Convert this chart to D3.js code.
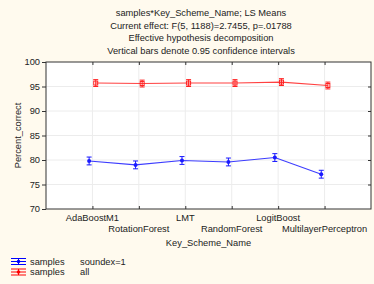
<!DOCTYPE html>
<html>
<head>
<meta charset="utf-8">
<script src="https://cdn.jsdelivr.net/npm/d3@7/dist/d3.min.js"></script>
<style>
  body { margin: 0; background: #fffaee; }
  svg { display: block; font-family: "Liberation Sans", Arial, sans-serif; }
</style>
</head>
<body>
<svg width="374" height="284"></svg>
<script>
var categories = ["AdaBoostM1", "RotationForest", "LMT", "RandomForest", "LogitBoost", "MultilayerPerceptron"];
var soundexMeans = [79.8, 79.0, 79.9, 79.6, 80.5, 77.1];
var soundexErr = [0.8, 0.8, 0.8, 0.8, 0.8, 0.8];
var allMeans = [95.7, 95.6, 95.7, 95.7, 95.9, 95.2];
var allErr = [0.7, 0.7, 0.7, 0.7, 0.7, 0.7];
var yTicks = [70, 75, 80, 85, 90, 95, 100];
var titleLines = [
  "samples*Key_Scheme_Name; LS Means",
  "Current effect: F(5, 1188)=2.7455, p=.01788",
  "Effective hypothesis decomposition",
  "Vertical bars denote 0.95 confidence intervals"
];
var legendRows = [
  { name: "samples", level: "soundex=1", color: "#0000ff" },
  { name: "samples", level: "all", color: "#ff0000" }
];

var fs = "9.3px";
var margin = { top: 62, right: 3, bottom: 75, left: 46 },
  width = 374 - margin.left - margin.right,
  height = 284 - margin.top - margin.bottom;

var svg = d3.select("svg");
svg.append("rect").attr("width", 374).attr("height", 284).attr("fill", "#fffaee");

// titles
svg.selectAll("text.title")
  .data(titleLines)
  .enter().append("text")
  .attr("class", "title")
  .attr("x", 201)
  .attr("y", function(d, i) { return 16 + i * 12.6; })
  .attr("text-anchor", "middle")
  .attr("font-size", fs)
  .attr("fill", "#222")
  .text(function(d) { return d; });

var g = svg.append("g")
  .attr("transform", "translate(" + margin.left + "," + margin.top + ")");

var x = d3.scaleLinear().domain([0, categories.length + 1]).range([0, width]);
var y = d3.scaleLinear().domain([70, 100]).range([height, 0]);

g.append("rect").attr("width", width).attr("height", height).attr("fill", "#fff");

// grid
g.selectAll("line.hgrid")
  .data(yTicks.slice(1, -1))
  .enter().append("line")
  .attr("x1", 0).attr("x2", width)
  .attr("y1", function(d) { return y(d); })
  .attr("y2", function(d) { return y(d); })
  .attr("stroke", "#ececec");
g.selectAll("line.vgrid")
  .data(categories)
  .enter().append("line")
  .attr("x1", function(d, i) { return x(i + 1); })
  .attr("x2", function(d, i) { return x(i + 1); })
  .attr("y1", 0).attr("y2", height)
  .attr("stroke", "#ececec");

// axes
var yAxis = g.append("g")
  .call(d3.axisLeft(y).tickValues(yTicks).tickSize(4).tickPadding(2));
yAxis.select(".domain").remove();
yAxis.selectAll("text").attr("font-size", fs).attr("fill", "#222")
  .attr("font-family", "Liberation Sans, Arial, sans-serif");
yAxis.selectAll("line").attr("stroke", "#333");

g.append("g")
  .attr("transform", "translate(" + width + ",0)")
  .call(d3.axisLeft(y).tickValues(yTicks.slice(1, -1)).tickSize(3).tickFormat(""))
  .call(function(a) { a.select(".domain").remove(); a.selectAll("line").attr("stroke", "#333"); });

var xAxis = g.append("g")
  .attr("transform", "translate(0," + height + ")")
  .call(d3.axisTop(x).tickValues(d3.range(1, categories.length + 1)).tickSize(3).tickFormat(""));
xAxis.select(".domain").remove();
xAxis.selectAll("line").attr("stroke", "#333");
g.append("g")
  .call(d3.axisBottom(x).tickValues(d3.range(1, categories.length + 1)).tickSize(3).tickFormat(""))
  .call(function(a) { a.select(".domain").remove(); a.selectAll("line").attr("stroke", "#333"); });

g.selectAll("text.xlab")
  .data(categories)
  .enter().append("text")
  .attr("class", "xlab")
  .attr("x", function(d, i) { return x(i + 1); })
  .attr("y", function(d, i) { return height + (i % 2 === 0 ? 12 : 23); })
  .attr("text-anchor", "middle")
  .attr("font-size", fs)
  .attr("fill", "#222")
  .text(function(d) { return d; });

g.append("rect").attr("width", width).attr("height", height)
  .attr("fill", "none").attr("stroke", "#333").attr("stroke-width", 1);

// axis titles
svg.append("text")
  .attr("x", margin.left + width / 2)
  .attr("y", 246)
  .attr("text-anchor", "middle")
  .attr("font-size", fs)
  .attr("fill", "#222")
  .text("Key_Scheme_Name");
svg.append("text")
  .attr("transform", "rotate(-90)")
  .attr("x", -(margin.top + height / 2))
  .attr("y", 21)
  .attr("text-anchor", "middle")
  .attr("font-size", fs)
  .attr("fill", "#222")
  .text("Percent_correct");

// series
function drawSeries(means, errs, color, offset, square) {
  var pts = means.map(function(m, i) { return { i: i, m: m, e: errs[i] }; });
  var px = function(d) { return x(d.i + 1) + offset; };
  var line = d3.line().x(px).y(function(d) { return y(d.m); });
  var s = g.append("g");
  s.append("path").datum(pts).attr("d", line)
    .attr("fill", "none").attr("stroke", color).attr("stroke-width", 1.1).attr("opacity", 0.85);
  var eb = s.selectAll("g.eb").data(pts).enter().append("g");
  eb.append("line")
    .attr("x1", px).attr("x2", px)
    .attr("y1", function(d) { return y(d.m - d.e); })
    .attr("y2", function(d) { return y(d.m + d.e); })
    .attr("stroke", color).attr("stroke-width", 1);
  [-1, 1].forEach(function(sgn) {
    eb.append("line")
      .attr("x1", function(d) { return px(d) - 2.5; })
      .attr("x2", function(d) { return px(d) + 2.5; })
      .attr("y1", function(d) { return y(d.m + sgn * d.e); })
      .attr("y2", function(d) { return y(d.m + sgn * d.e); })
      .attr("stroke", color).attr("stroke-width", 1);
  });
  if (square) {
    eb.append("rect")
      .attr("x", function(d) { return px(d) - 2; })
      .attr("y", function(d) { return y(d.m) - 2; })
      .attr("width", 4).attr("height", 4)
      .attr("fill", "none").attr("stroke", color).attr("stroke-width", 1);
  } else {
    eb.append("circle")
      .attr("cx", px).attr("cy", function(d) { return y(d.m); })
      .attr("r", 2).attr("fill", color);
  }
}
drawSeries(soundexMeans, soundexErr, "#1a1aff", -3.3, false);
drawSeries(allMeans, allErr, "#ff2020", 3.3, true);

// legend
var leg = svg.selectAll("g.leg")
  .data(legendRows)
  .enter().append("g")
  .attr("transform", function(d, i) { return "translate(0," + (261.5 + i * 10.5) + ")"; });
leg.append("line").attr("x1", 11).attr("x2", 26).attr("y1", 0).attr("y2", 0)
  .attr("stroke", function(d) { return d.color; });
leg.append("line").attr("x1", 11).attr("x2", 26).attr("y1", -3).attr("y2", -3)
  .attr("stroke", function(d) { return d.color; });
leg.append("line").attr("x1", 11).attr("x2", 26).attr("y1", 3).attr("y2", 3)
  .attr("stroke", function(d) { return d.color; });
leg.append("line").attr("x1", 18.5).attr("x2", 18.5).attr("y1", -3).attr("y2", 3)
  .attr("stroke", function(d) { return d.color; });
leg.append("circle").attr("cx", 18.5).attr("cy", 0).attr("r", 1.8)
  .attr("fill", function(d) { return d.color; });
leg.append("text").attr("x", 30).attr("y", 3).attr("font-size", fs).attr("fill", "#222")
  .text(function(d) { return d.name; });
leg.append("text").attr("x", 80).attr("y", 3).attr("font-size", fs).attr("fill", "#222")
  .text(function(d) { return d.level; });
</script>
</body>
</html>
